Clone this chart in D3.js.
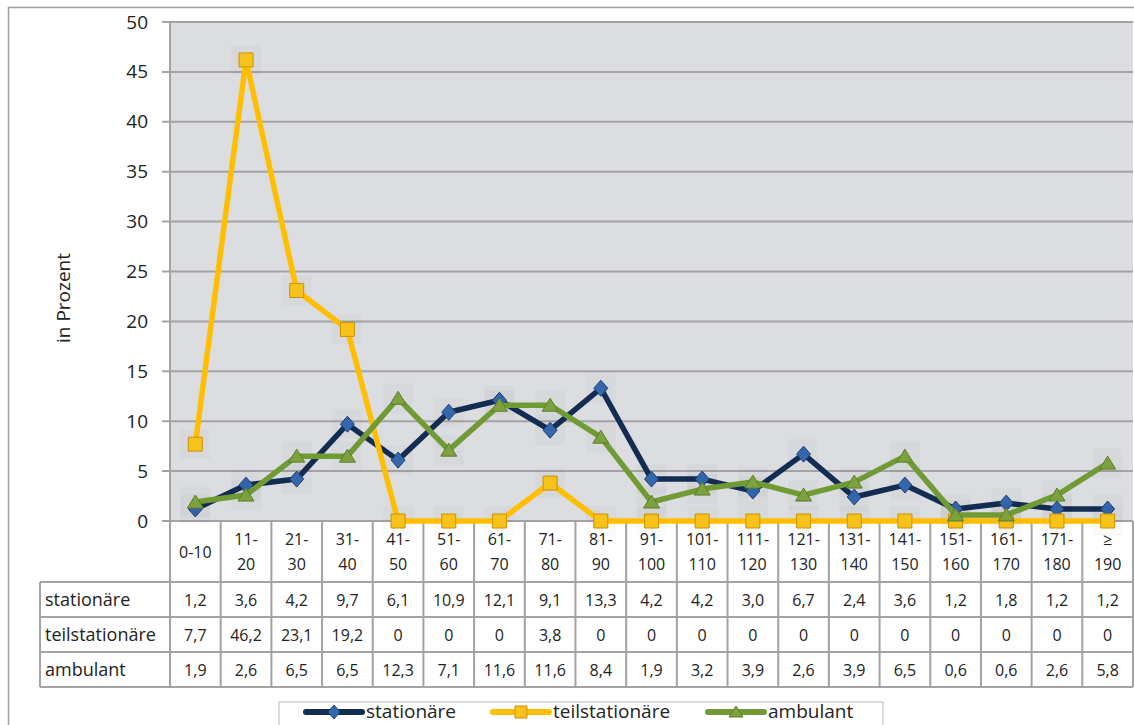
<!DOCTYPE html>
<html>
<head>
<meta charset="utf-8">
<script src="https://cdn.jsdelivr.net/npm/d3@7"></script>
<style>
  html, body { margin: 0; padding: 0; background: #fff; }
  svg { display: block; font-family: 'Open Sans', sans-serif; }
</style>
</head>
<body>
<div id="chart"></div>
<script>
// categories (line breaks marked with |)
const categories = ['0-10', '11-|20', '21-|30', '31-|40', '41-|50', '51-|60', '61-|70', '71-|80', '81-|90',
  '91-|100', '101-|110', '111-|120', '121-|130', '131-|140', '141-|150', '151-|160', '161-|170', '171-|180', '≥|190'];

const stationaere = [1.2, 3.6, 4.2, 9.7, 6.1, 10.9, 12.1, 9.1, 13.3, 4.2, 4.2, 3.0, 6.7, 2.4, 3.6, 1.2, 1.8, 1.2, 1.2];
const teilstationaere = [7.7, 46.2, 23.1, 19.2, 0, 0, 0, 3.8, 0, 0, 0, 0, 0, 0, 0, 0, 0, 0, 0];
const ambulant = [1.9, 2.6, 6.5, 6.5, 12.3, 7.1, 11.6, 11.6, 8.4, 1.9, 3.2, 3.9, 2.6, 3.9, 6.5, 0.6, 0.6, 2.6, 5.8];

const yTicks = [0, 5, 10, 15, 20, 25, 30, 35, 40, 45, 50];

const series = [
  { name: 'stationäre', values: stationaere, line: '#132c52', fill: '#3467ad', stroke: '#1d3f73', marker: 'diamond' },
  { name: 'teilstationäre', values: teilstationaere, line: '#ffbf00', fill: '#f7c21a', stroke: '#c99200', marker: 'square' },
  { name: 'ambulant', values: ambulant, line: '#6f9a34', fill: '#7da13f', stroke: '#5b7f28', marker: 'triangle' }
];

const width = 1134, height = 725;
const plotLeft = 170, plotRight = 1133, plotTop = 22, plotBottom = 521;
const rowTops = [521, 582, 617, 652, 687];
const tableLeft = 40;
const gridColor = '#a3a3a3';

const svg = d3.select('#chart').append('svg')
  .attr('width', width)
  .attr('height', height);

// outer frame
svg.append('path')
  .attr('d', 'M8.5,' + height + 'V7.5H' + width)
  .attr('fill', 'none')
  .attr('stroke', '#a0a0a0')
  .attr('stroke-width', 1.5);

const x = d3.scaleBand()
  .domain(d3.range(categories.length))
  .range([plotLeft, plotRight]);

const y = d3.scaleLinear()
  .domain([0, 50])
  .range([plotBottom, plotTop]);

// plot background
svg.append('rect')
  .attr('x', plotLeft)
  .attr('y', plotTop)
  .attr('width', plotRight - plotLeft)
  .attr('height', plotBottom - plotTop)
  .attr('fill', '#dcdde0');

// grid lines
svg.append('g')
  .selectAll('line')
  .data(yTicks)
  .enter()
  .append('line')
  .attr('x1', plotLeft - 8)
  .attr('x2', plotRight)
  .attr('y1', d => y(d))
  .attr('y2', d => y(d))
  .attr('stroke', gridColor)
  .attr('stroke-width', 2);

// y axis
const yAxis = svg.append('g')
  .attr('transform', 'translate(' + plotLeft + ',0)')
  .call(d3.axisLeft(y).tickValues(yTicks).tickSize(0).tickPadding(22));
yAxis.select('.domain').remove();
yAxis.selectAll('text')
  .style('font-family', "'Open Sans', sans-serif")
  .style('font-size', '19px')
  .style('fill', '#222');

svg.append('line')
  .attr('x1', plotLeft)
  .attr('x2', plotLeft)
  .attr('y1', plotTop)
  .attr('y2', rowTops[4])
  .attr('stroke', gridColor)
  .attr('stroke-width', 2);

svg.append('text')
  .text('in Prozent')
  .attr('transform', 'translate(70,298) rotate(-90)')
  .style('text-anchor', 'middle')
  .style('font-size', '19px')
  .style('fill', '#222');

// data table
const table = svg.append('g').attr('class', 'table');

table.selectAll('line.h')
  .data(rowTops.slice(1))
  .enter()
  .append('line')
  .attr('class', 'h')
  .attr('x1', tableLeft)
  .attr('x2', plotRight)
  .attr('y1', d => d)
  .attr('y2', d => d)
  .attr('stroke', gridColor)
  .attr('stroke-width', 2);

table.append('line')
  .attr('x1', tableLeft)
  .attr('x2', tableLeft)
  .attr('y1', rowTops[1])
  .attr('y2', rowTops[4])
  .attr('stroke', gridColor)
  .attr('stroke-width', 2);

table.selectAll('line.v')
  .data(d3.range(1, categories.length + 1))
  .enter()
  .append('line')
  .attr('class', 'v')
  .attr('x1', d => d < categories.length ? x(d) : plotRight)
  .attr('x2', d => d < categories.length ? x(d) : plotRight)
  .attr('y1', plotBottom)
  .attr('y2', rowTops[4])
  .attr('stroke', gridColor)
  .attr('stroke-width', 2);

// category labels
const catText = table.selectAll('text.cat')
  .data(categories)
  .enter()
  .append('text')
  .attr('class', 'cat')
  .attr('x', (d, i) => x(i) + x.bandwidth() / 2)
  .attr('y', d => d.indexOf('|') < 0 ? 558 : 545)
  .style('text-anchor', 'middle')
  .style('font-size', '16px')
  .style('fill', '#222');

catText.selectAll('tspan')
  .data(d => d.split('|'))
  .enter()
  .append('tspan')
  .attr('x', function () { return d3.select(this.parentNode).attr('x'); })
  .attr('dy', (d, i) => i === 0 ? 0 : 25)
  .text(d => d);

const fmt = v => v === 0 ? '0' : d3.format('.1f')(v).replace('.', ',');

series.forEach((s, r) => {
  const rowY = (rowTops[r + 1] + rowTops[r + 2]) / 2 + 6;
  table.append('text')
    .text(s.name)
    .attr('x', tableLeft + 5)
    .attr('y', rowY)
    .style('font-size', '18px')
    .style('fill', '#222');
  table.selectAll('text.val' + r)
    .data(s.values)
    .enter()
    .append('text')
    .attr('class', 'val' + r)
    .attr('x', (d, i) => x(i) + x.bandwidth() / 2)
    .attr('y', rowY)
    .style('text-anchor', 'middle')
    .style('font-size', '16px')
    .style('fill', '#222')
    .text(fmt);
});

// markers
function markerPath(type, size) {
  const h = size / 2;
  if (type === 'diamond') return 'M0,' + (-h - 1) + 'L' + h + ',0L0,' + (h + 1) + 'L' + (-h) + ',0Z';
  if (type === 'square') return 'M' + (-h) + ',' + (-h) + 'H' + h + 'V' + h + 'H' + (-h) + 'Z';
  return 'M0,' + (-h) + 'L' + (h + 1) + ',' + (h - 1) + 'L' + (-h - 1) + ',' + (h - 1) + 'Z';
}

const line = d3.line()
  .x((d, i) => x(i) + x.bandwidth() / 2)
  .y(d => y(d));

const plot = svg.append('g').attr('class', 'series');

series.forEach(s => {
  const g = plot.append('g');
  g.selectAll('rect.shade')
    .data(s.values)
    .enter()
    .append('rect')
    .attr('class', 'shade')
    .attr('x', (d, i) => x(i) + x.bandwidth() / 2 - 15)
    .attr('y', d => y(d) - 15)
    .attr('width', 30)
    .attr('height', 30)
    .attr('fill', '#000')
    .attr('opacity', 0.02);

  g.append('path')
    .datum(s.values)
    .attr('fill', 'none')
    .attr('stroke', s.line)
    .attr('stroke-width', 5.5)
    .attr('stroke-linejoin', 'round')
    .attr('d', line);

  g.selectAll('path.marker')
    .data(s.values)
    .enter()
    .append('path')
    .attr('class', 'marker')
    .attr('transform', (d, i) => 'translate(' + (x(i) + x.bandwidth() / 2) + ',' + y(d) + ')')
    .attr('d', markerPath(s.marker, 14))
    .attr('fill', s.fill)
    .attr('stroke', s.stroke)
    .attr('stroke-width', 1);
});

// legend
const legend = svg.append('g').attr('class', 'legend');

legend.append('rect')
  .attr('x', 279)
  .attr('y', 702)
  .attr('width', 604)
  .attr('height', 40)
  .attr('fill', '#fff')
  .attr('stroke', '#d0d0d0')
  .attr('stroke-width', 1.5);

const legendX = [306, 493, 708];

series.forEach((s, i) => {
  const item = legend.append('g')
    .attr('transform', 'translate(' + legendX[i] + ',712)');
  item.append('line')
    .attr('x1', 0)
    .attr('x2', 56)
    .attr('y1', 0)
    .attr('y2', 0)
    .attr('stroke', s.line)
    .attr('stroke-width', 6)
    .attr('stroke-linecap', 'round');
  item.append('path')
    .attr('transform', 'translate(28,0)')
    .attr('d', markerPath(s.marker, 12))
    .attr('fill', s.fill)
    .attr('stroke', s.stroke);
  item.append('text')
    .text(s.name)
    .attr('x', 60)
    .attr('y', 6)
    .style('font-size', '19px')
    .style('fill', '#222');
});
</script>
</body>
</html>
